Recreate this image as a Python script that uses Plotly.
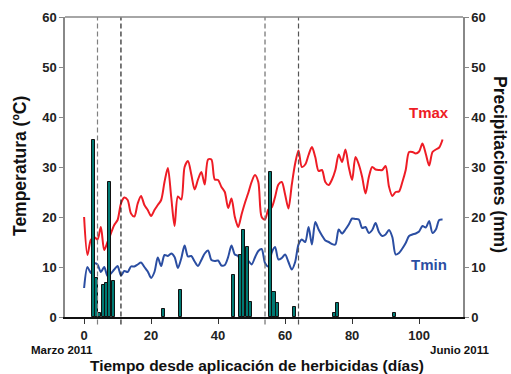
import plotly.graph_objects as go

days = list(range(0, 108))
tmax = [20.0, 12.4, 15.4, 16.0, 15.5, 18.0, 13.4, 15.0, 16.7, 18.4,
        19.4, 22.7, 23.9, 23.4, 20.7, 20.1, 22.7, 24.2, 22.4, 21.4,
        20.2, 21.4, 22.4, 23.4, 27.0, 29.8, 24.0, 18.2, 24.1, 23.5,
        30.0, 31.2, 28.5, 25.5, 27.5, 29.0, 26.5, 31.5, 31.5, 27.5,
        27.4, 26.0, 25.0, 21.8, 23.7, 20.0, 18.0, 20.5, 22.8, 24.8,
        27.0, 28.4, 27.0, 20.0, 19.5, 21.5, 21.9, 24.0, 26.5, 27.0,
        24.5, 21.7, 26.5, 30.7, 33.3, 30.0, 30.5, 32.4, 34.0, 32.0,
        29.2, 29.4, 27.0, 26.4, 27.5, 29.4, 32.5, 31.0, 33.5, 30.0,
        27.4, 32.0, 30.5, 28.0, 24.7, 28.0, 30.0, 29.5, 29.4, 29.4,
        30.2, 26.1, 24.2, 25.0, 25.1, 27.0, 29.4, 33.0, 33.0, 32.7,
        33.1, 34.7, 32.6, 30.3, 33.0, 33.5, 33.9, 35.5]
tmin = [5.8, 10.0, 8.8, 10.7, 10.5, 9.0, 10.0, 8.2, 8.7, 9.5,
        10.2, 8.3, 9.2, 9.0, 10.1, 10.1, 10.5, 10.9, 10.0, 9.1,
        7.8, 9.0, 11.9, 10.2, 12.4, 12.2, 12.7, 12.0, 9.8, 11.7,
        14.3, 12.1, 12.2, 11.1, 10.2, 11.4, 12.7, 13.3, 11.4, 11.2,
        11.3, 10.3, 10.4, 12.0, 14.3, 12.5, 12.2, 10.0, 10.3, 11.2,
        10.5, 11.9, 13.2, 13.6, 10.8, 10.1, 12.9, 14.0, 11.5, 11.8,
        12.5, 11.0, 9.5, 11.0, 14.5, 15.5, 15.0, 18.0, 14.5, 19.0,
        17.5, 16.3, 15.3, 15.0, 14.6, 14.5, 17.5, 16.7, 17.5, 18.5,
        19.7, 19.6, 19.5, 17.8, 18.0, 16.8, 17.4, 18.8, 17.0, 16.2,
        16.5, 17.4, 16.0, 12.5, 12.8, 13.7, 14.8, 16.2, 16.5, 16.7,
        17.1, 18.2, 17.9, 19.2, 16.8, 17.5, 19.4, 19.5]

rain_days = [3, 4, 5, 6, 7, 8, 9, 24, 29, 45, 47, 48, 49, 50, 56, 57, 58, 63, 75, 76, 93]
rain_mm = [35.5, 7.8, 0.8, 6.4, 6.8, 27.0, 7.2, 1.6, 5.5, 8.4, 12.4, 17.5, 14.0, 3.0,
           29.0, 5.0, 2.9, 2.0, 0.8, 2.9, 0.9]

app_days = [4, 11, 54, 64]
app_colors = ["#808080", "#222222", "#707070", "#555555"]

y_ticks = [0, 10, 20, 30, 40, 50, 60]
x_ticks = [0, 20, 40, 60, 80, 100]

FAM = "Liberation Sans, Arial, sans-serif"
bold = dict(family=FAM, size=13, color="#222", weight="bold")

# plot-area geometry in page pixels
L, R, T, B = 65, 463, 17, 317
PW, PH = R - L, B - T


def px(xp):
    return (xp - L) / PW


def py(yp):
    return (B - yp) / PH


fig = go.Figure()
fig.add_trace(go.Bar(x=[d - 0.3 for d in rain_days], y=rain_mm, yaxis="y2", width=0.95,
                     marker=dict(color="#007a73", line=dict(color="#111", width=1)),
                     showlegend=False, hoverinfo="skip"))
fig.add_trace(go.Scatter(x=days, y=tmax, mode="lines", line=dict(color="#ee1c25", width=2, shape="spline", smoothing=0.8),
                         showlegend=False, hoverinfo="skip"))
fig.add_trace(go.Scatter(x=days, y=tmin, mode="lines", line=dict(color="#2b4ea2", width=2, shape="spline", smoothing=0.8),
                         showlegend=False, hoverinfo="skip"))

for d, c in zip(app_days, app_colors):
    fig.add_shape(type="line", xref="x", yref="paper", x0=d, x1=d, y0=-0.025, y1=1,
                  line=dict(color=c, width=1.2, dash="5px,3px"), layer="above")

fig.update_layout(
    width=511, height=374,
    margin=dict(l=L, r=511 - R, t=T, b=374 - B, autoexpand=False),
    paper_bgcolor="white", plot_bgcolor="white",
    bargap=0,
    xaxis=dict(range=[-5.7, 113.1], tickvals=x_ticks, ticks="outside", ticklen=5, tickcolor="#333",
               showline=True, linecolor="#111", linewidth=2, showgrid=False, zeroline=False,
               tickfont=bold, automargin=False, fixedrange=True),
    yaxis=dict(range=[0, 60], tickvals=y_ticks, ticks="outside", ticklen=4, tickcolor="#888",
               showline=True, linecolor="#888", linewidth=1.5, showgrid=False, zeroline=False,
               tickfont=bold, automargin=False, fixedrange=True),
    yaxis2=dict(range=[0, 60], tickvals=y_ticks, ticks="outside", ticklen=4, tickcolor="#888",
                overlaying="y", side="right",
                showline=True, linecolor="#888", linewidth=1.5, showgrid=False, zeroline=False,
                tickfont=bold, automargin=False, fixedrange=True),
)

# top border
fig.add_shape(type="line", xref="paper", yref="paper", x0=0, x1=1, y0=1, y1=1,
              line=dict(color="#888", width=1.5))

tfont = dict(family=FAM, size=17.5, color="#111", weight="bold")
fig.add_annotation(x=px(20), y=py(166), xref="paper", yref="paper", showarrow=False,
                   text="Temperatura (ºC)", textangle=-90, font=tfont,
                   xanchor="center", yanchor="middle")
fig.add_annotation(x=px(500), y=py(165), xref="paper", yref="paper", showarrow=False,
                   text="Precipitaciones (mm)", textangle=90, font=tfont,
                   xanchor="center", yanchor="middle")

fig.add_annotation(x=px(257), y=py(365), xref="paper", yref="paper", xanchor="center", yanchor="middle", showarrow=False,
                   text="Tiempo desde aplicación de herbicidas (días)",
                   font=dict(family=FAM, size=15.5, color="#111", weight="bold"))
fig.add_annotation(x=px(62), y=py(350), xref="paper", yref="paper", xanchor="center", yanchor="middle", showarrow=False,
                   text="Marzo 2011",
                   font=dict(family=FAM, size=11.5, color="#111", weight="bold"))
fig.add_annotation(x=px(459), y=py(350), xref="paper", yref="paper", xanchor="center", yanchor="middle", showarrow=False,
                   text="Junio 2011",
                   font=dict(family=FAM, size=11.5, color="#111", weight="bold"))
fig.add_annotation(x=103, y=41, xref="x", yref="y", showarrow=False, text="Tmax",
                   font=dict(family=FAM, size=15, color="#ee1c25", weight="bold"))
fig.add_annotation(x=103, y=10.5, xref="x", yref="y", showarrow=False, text="Tmin",
                   font=dict(family=FAM, size=15, color="#2b4ea2", weight="bold"))

fig.write_html("out.html", config={"displayModeBar": False},
               post_script="document.body.style.margin='0';")
